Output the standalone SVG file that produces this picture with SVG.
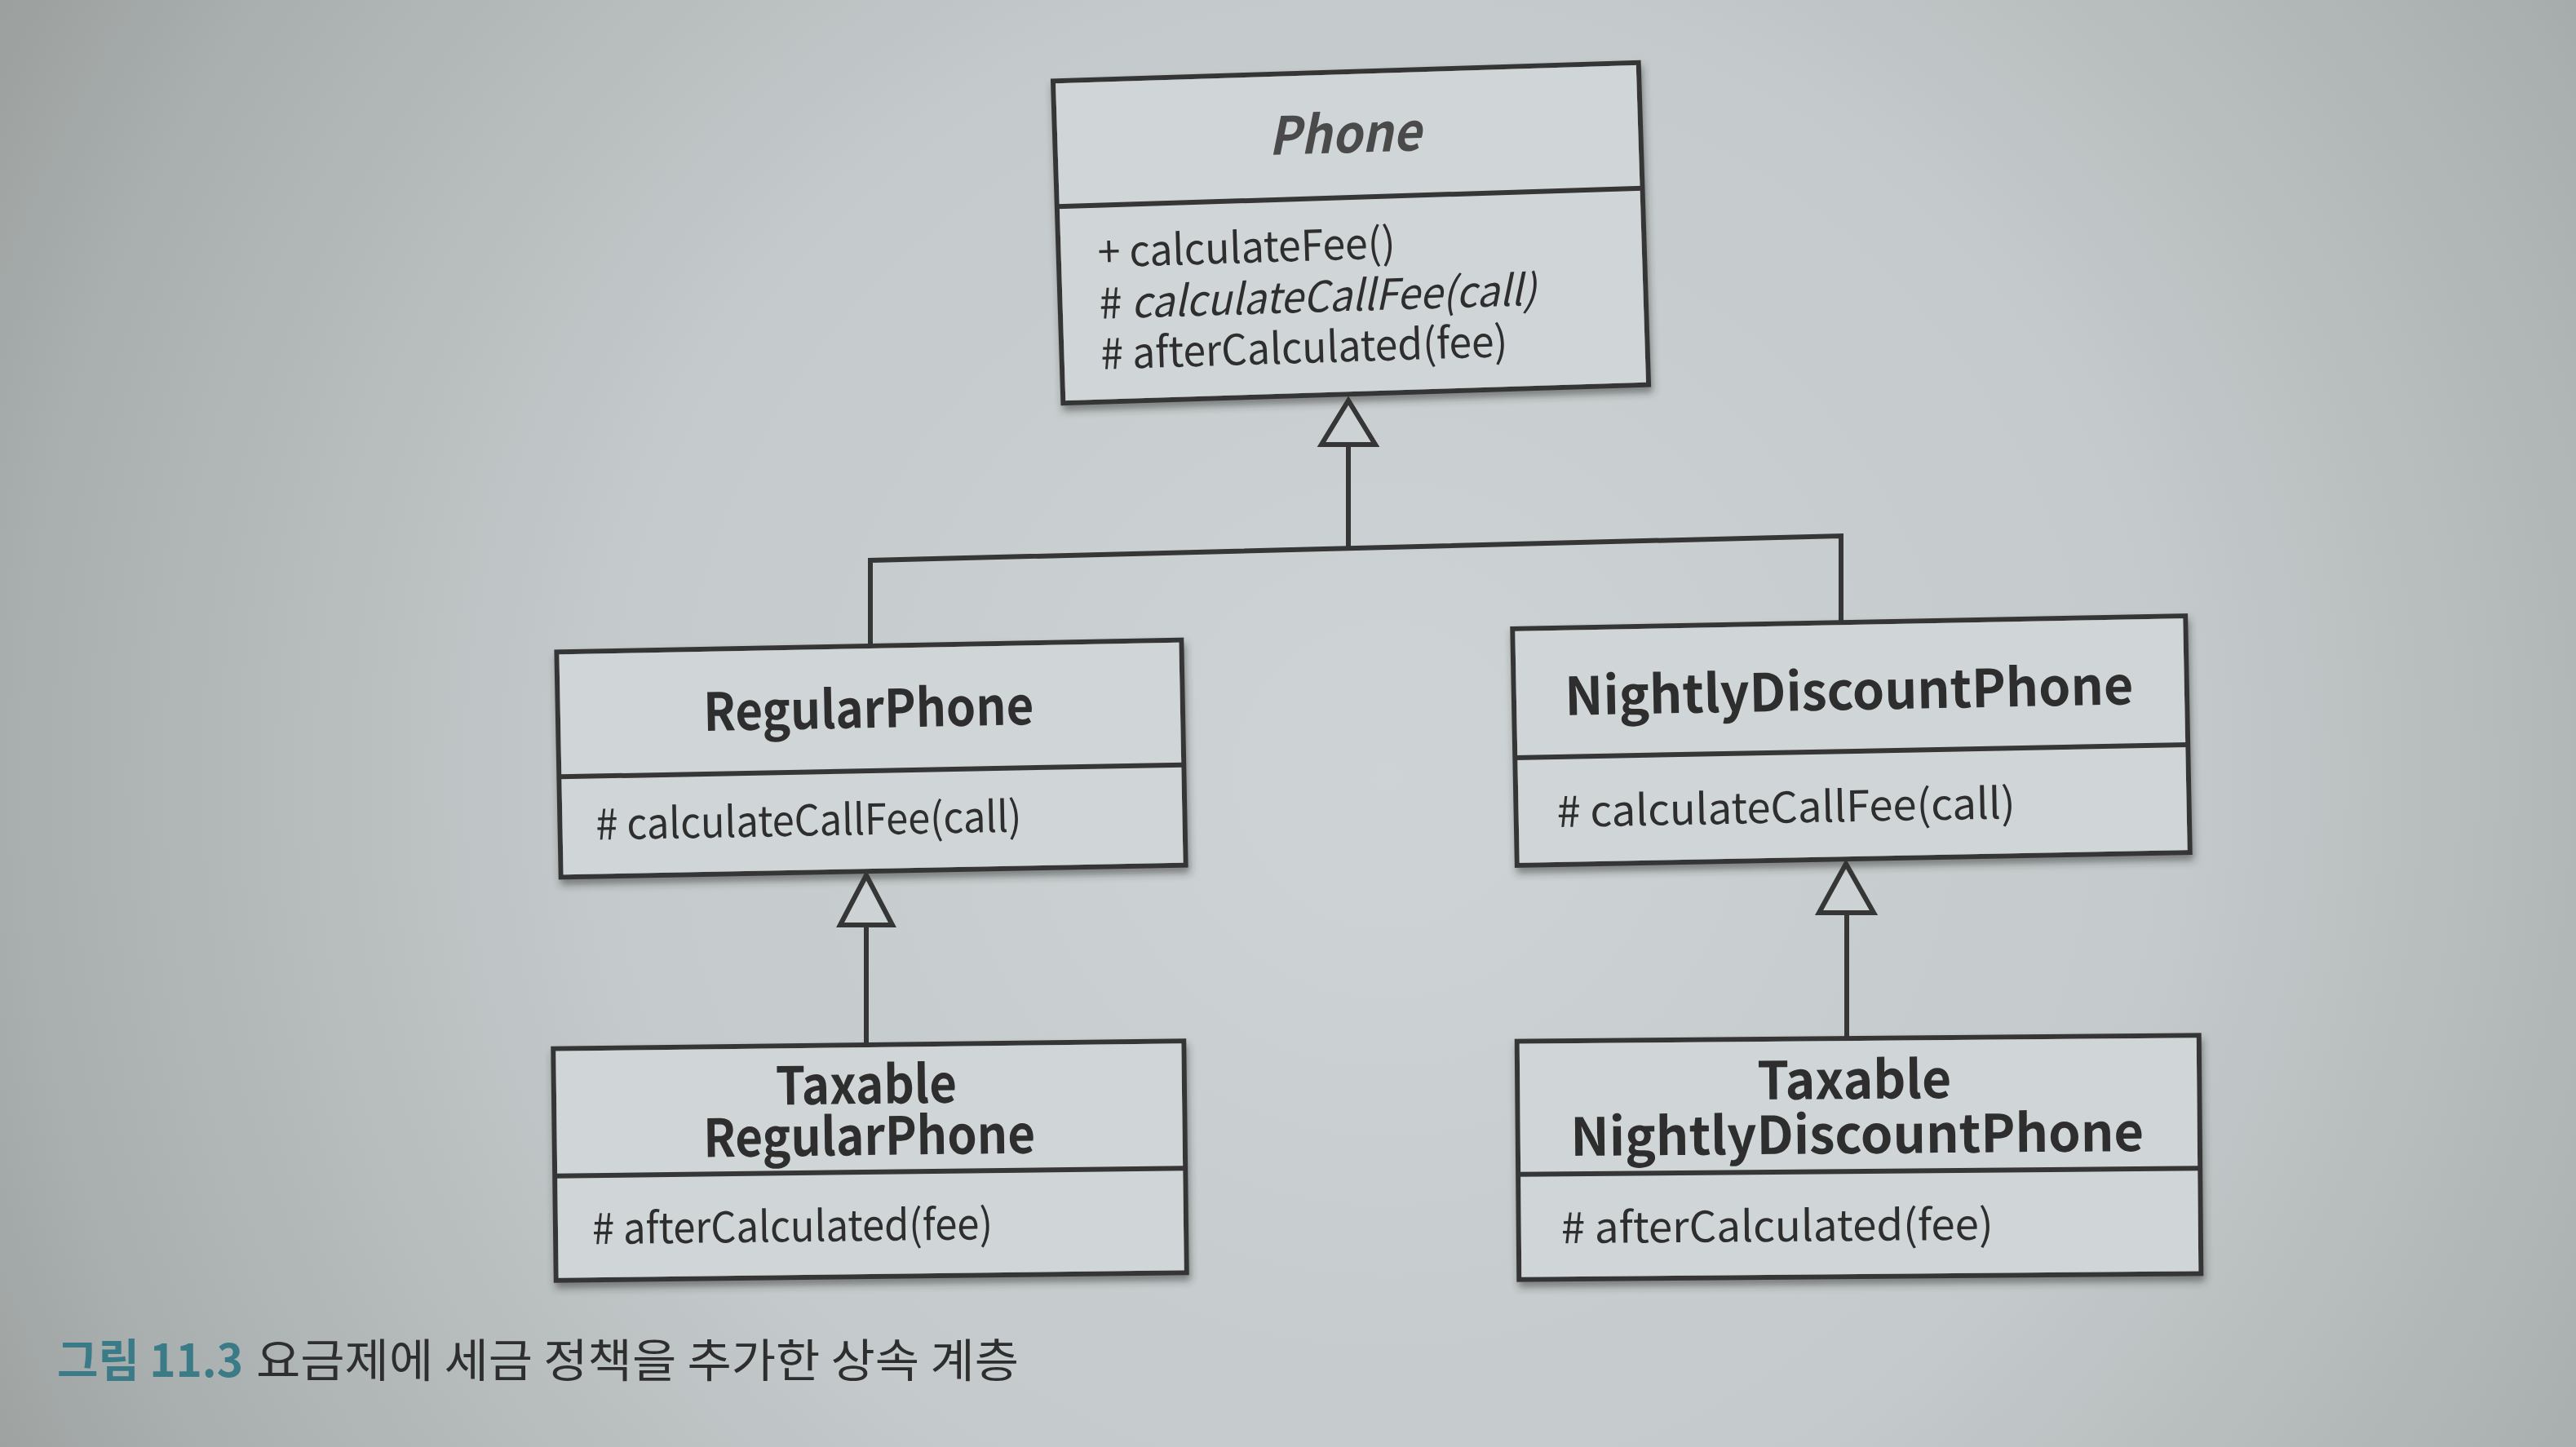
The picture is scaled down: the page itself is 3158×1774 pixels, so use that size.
<svg xmlns="http://www.w3.org/2000/svg" width="3158" height="1774" viewBox="0 0 3158 1774">
<defs>
<radialGradient id="bg" cx="1700" cy="950" r="1950" gradientUnits="userSpaceOnUse">
<stop offset="0" stop-color="#ced4d5"/>
<stop offset="0.5" stop-color="#c4cacb"/>
<stop offset="0.85" stop-color="#aab0af"/>
<stop offset="1" stop-color="#9ba09f"/>
</radialGradient>
<filter id="sh" x="-5%" y="-10%" width="110%" height="130%">
<feDropShadow dx="2" dy="7" stdDeviation="5" flood-color="#333" flood-opacity="0.5"/>
</filter>
</defs>
<style>
.box{fill:#d0d6d7;stroke:#363636;stroke-width:6}
.div{stroke:#363636;stroke-width:6}
.t{font-family:"Noto Sans CJK KR","Noto Sans",sans-serif;fill:#2e2e2e}
.title{font-weight:700;font-size:64px;text-anchor:middle}
.mem{font-size:52px}
.conn{fill:none;stroke:#363636;stroke-width:6}
.tri{fill:#cdd3d4;stroke:#363636;stroke-width:6;stroke-linejoin:miter}
</style>
<rect x="0" y="0" width="3158" height="1774" fill="url(#bg)"/>

<g id="connectors">
<polygon class="tri" points="1653,491 1620,545 1686,545"/>
<path class="conn" d="M1653,545 V672"/>
<path class="conn" d="M1067,792 V687 L2257,657 V764"/>
<polygon class="tri" points="1062,1073 1030,1134 1094,1134"/>
<path class="conn" d="M1062,1134 V1282"/>
<polygon class="tri" points="2263,1059 2230,1119 2297,1119"/>
<path class="conn" d="M2264,1119 V1274"/>
</g>

<g id="phone" transform="rotate(-1.8 1656 285)">
<rect class="box" x="1297" y="88" width="718" height="395" filter="url(#sh)"/>
<line class="div" x1="1297" y1="242" x2="2015" y2="242"/>
<text class="t title" x="1652" y="187" font-style="italic" style="fill:#4a4a4a" textLength="187" lengthAdjust="spacingAndGlyphs">Phone</text>
<text class="t mem" x="1345" y="318" textLength="365" lengthAdjust="spacingAndGlyphs">+ calculateFee()</text>
<text class="t mem" x="1345" y="381" textLength="536" lengthAdjust="spacingAndGlyphs"># <tspan font-style="italic">calculateCallFee(call)</tspan></text>
<text class="t mem" x="1345" y="443" textLength="499" lengthAdjust="spacingAndGlyphs"># afterCalculated(fee)</text>
</g>

<g id="regularphone" transform="rotate(-1.1 1068 930)">
<rect class="box" x="685" y="792" width="766" height="276" filter="url(#sh)"/>
<line class="div" x1="685" y1="945" x2="1451" y2="945"/>
<text class="t title" x="1066" y="892" textLength="405" lengthAdjust="spacingAndGlyphs">RegularPhone</text>
<text class="t mem" x="729" y="1023" textLength="522" lengthAdjust="spacingAndGlyphs"># calculateCallFee(call)</text>
</g>

<g id="nightlydiscountphone" transform="rotate(-1.1 2270 908)">
<rect class="box" x="1857" y="763" width="825" height="290" filter="url(#sh)"/>
<line class="div" x1="1857" y1="921" x2="2682" y2="921"/>
<text class="t title" x="2268" y="870" textLength="697" lengthAdjust="spacingAndGlyphs">NightlyDiscountPhone</text>
<text class="t mem" x="1907" y="1007" textLength="562" lengthAdjust="spacingAndGlyphs"># calculateCallFee(call)</text>
</g>

<g id="taxableregularphone" transform="rotate(-0.7 1066 1423)">
<rect class="box" x="680" y="1281" width="773" height="284" filter="url(#sh)"/>
<line class="div" x1="680" y1="1437" x2="1453" y2="1437"/>
<text class="t title"><tspan x="1063" y="1353" textLength="222" lengthAdjust="spacingAndGlyphs">Taxable</tspan><tspan x="1066" y="1416" textLength="407" lengthAdjust="spacingAndGlyphs">RegularPhone</tspan></text>
<text class="t mem" x="725" y="1521" textLength="491" lengthAdjust="spacingAndGlyphs"># afterCalculated(fee)</text>
</g>

<g id="taxablenightlydiscountphone" transform="rotate(-0.5 2279 1418)">
<rect class="box" x="1861" y="1273" width="836" height="292" filter="url(#sh)"/>
<line class="div" x1="1861" y1="1436" x2="2697" y2="1436"/>
<text class="t title"><tspan x="2274" y="1347" textLength="238" lengthAdjust="spacingAndGlyphs">Taxable</tspan><tspan x="2277" y="1414" textLength="703" lengthAdjust="spacingAndGlyphs">NightlyDiscountPhone</tspan></text>
<text class="t mem" x="1913" y="1521" textLength="530" lengthAdjust="spacingAndGlyphs"># afterCalculated(fee)</text>
</g>

<g id="caption">
<text class="t" x="70" y="1688" font-size="56" font-weight="700" style="fill:#3b7b88" textLength="228" lengthAdjust="spacingAndGlyphs">그림 11.3</text>
<text class="t" x="314" y="1688" font-size="56" style="fill:#2e2e2e" textLength="935" lengthAdjust="spacingAndGlyphs">요금제에 세금 정책을 추가한 상속 계층</text>
</g>
</svg>
